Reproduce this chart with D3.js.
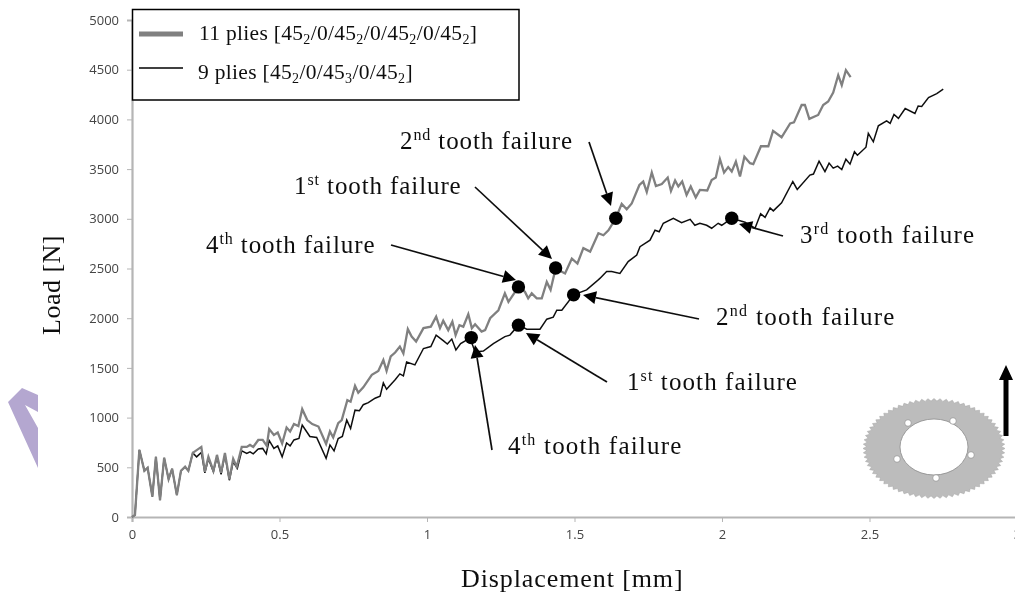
<!DOCTYPE html>
<html>
<head>
<meta charset="utf-8">
<script src="https://cdn.jsdelivr.net/npm/d3@7"></script>
<style>
html, body { margin: 0; padding: 0; background: #fff; overflow: hidden; }
svg { display: block; }
.serif { font-family: "Liberation Serif", serif; fill: #111; }
.tick text { font-family: "Open Sans", sans-serif; font-size: 13px; fill: #444; }
.tick line, .domain { stroke: #b5b5b5; }
</style>
</head>
<body>
<div id="root"></div>
<script>
'use strict';

var width = 1015;
var height = 596;

var xTicks = [0, 0.5, 1, 1.5, 2, 2.5, 3];
var yTicks = [0, 500, 1000, 1500, 2000, 2500, 3000, 3500, 4000, 4500, 5000];

var disp11 = [0, .010, .025, .042, .053, .069, .081, .095, .109, .124, .136, .152, .166, .180, .191, .206, .235, .247, .259, .276, .288, .302, .315, .330, .343, .355, .372, .389, .400, .411, .428, .443, .457, .465, .481, .494, .509, .524, .536, .549, .564, .577, .594, .611, .632, .658, .671, .682, .699, .711, .730, .741, .756, .767, .784, .813, .835, .852, .863, .877, .892, .908, .920, .935, .948, .963, .988, 1.013, 1.031, 1.044, 1.055, 1.072, 1.086, 1.097, 1.110, 1.123, 1.140, 1.152, 1.163, 1.185, 1.197, 1.214, 1.242, 1.264, 1.276, 1.310, 1.332, 1.343, 1.355, 1.372, 1.389, 1.406, 1.419, 1.436, 1.468, 1.491, 1.510, 1.530, 1.553, 1.581, 1.598, 1.615, 1.640, 1.660, 1.677, 1.694, 1.720, 1.733, 1.745, 1.762, 1.776, 1.796, 1.816, 1.827, 1.841, 1.852, 1.865, 1.880, 1.894, 1.911, 1.925, 1.950, 1.965, 1.979, 1.993, 2.007, 2.021, 2.033, 2.047, 2.061, 2.076, 2.095, 2.106, 2.132, 2.157, 2.173, 2.202, 2.231, 2.244, 2.270, 2.281, 2.296, 2.326, 2.343, 2.360, 2.377, 2.394, 2.406, 2.420, 2.436];
var load11 = [0, 20, 675, 465, 495, 205, 605, 170, 595, 380, 485, 220, 465, 505, 465, 645, 705, 455, 605, 465, 625, 445, 645, 380, 585, 505, 705, 705, 725, 705, 775, 775, 715, 885, 825, 850, 740, 900, 860, 935, 915, 1085, 975, 935, 910, 735, 860, 800, 945, 975, 1175, 1160, 1320, 1250, 1305, 1430, 1470, 1580, 1470, 1615, 1655, 1715, 1645, 1890, 1815, 1765, 1900, 1915, 2015, 1900, 1975, 1880, 1965, 1830, 1930, 1915, 2040, 1900, 1940, 1865, 1880, 2000, 2080, 2250, 2165, 2315, 2265, 2200, 2250, 2200, 2200, 2365, 2285, 2500, 2450, 2600, 2550, 2705, 2670, 2855, 2835, 2885, 3005, 3150, 3095, 3155, 3340, 3375, 3270, 3465, 3330, 3350, 3415, 3280, 3385, 3325, 3375, 3240, 3325, 3215, 3290, 3285, 3390, 3415, 3600, 3465, 3520, 3475, 3575, 3425, 3625, 3560, 3550, 3730, 3730, 3885, 3820, 3960, 3970, 4145, 4145, 4005, 4045, 4145, 4180, 4270, 4445, 4345, 4495, 4425];

var disp9 = [0, .010, .025, .042, .053, .069, .081, .095, .109, .124, .136, .152, .166, .180, .191, .206, .219, .235, .247, .259, .276, .288, .302, .315, .330, .343, .357, .372, .389, .400, .411, .428, .443, .455, .465, .481, .494, .509, .524, .536, .549, .566, .577, .603, .626, .658, .671, .685, .699, .713, .728, .741, .756, .771, .784, .801, .824, .841, .852, .863, .892, .908, .920, .931, .959, .988, 1.013, 1.031, 1.055, 1.069, 1.084, 1.098, 1.114, 1.146, 1.163, 1.191, 1.225, 1.264, 1.281, 1.310, 1.338, 1.383, 1.406, 1.428, 1.440, 1.457, 1.497, 1.541, 1.586, 1.609, 1.626, 1.654, 1.682, 1.711, 1.722, 1.756, 1.773, 1.787, 1.801, 1.835, 1.863, 1.892, 1.908, 1.925, 1.948, 1.965, 1.987, 1.999, 2.033, 2.078, 2.112, 2.131, 2.146, 2.163, 2.174, 2.202, 2.240, 2.255, 2.298, 2.310, 2.329, 2.349, 2.363, 2.377, 2.392, 2.406, 2.420, 2.434, 2.449, 2.459, 2.488, 2.496, 2.513, 2.530, 2.558, 2.570, 2.583, 2.598, 2.621, 2.654, 2.665, 2.677, 2.700, 2.728, 2.750];
var load9 = [0, 20, 675, 465, 495, 205, 605, 170, 595, 380, 485, 220, 465, 505, 465, 645, 605, 650, 445, 585, 455, 605, 430, 625, 370, 555, 490, 665, 640, 655, 635, 685, 690, 635, 770, 690, 715, 605, 745, 715, 775, 790, 925, 810, 800, 590, 725, 665, 790, 810, 975, 890, 1075, 1070, 1130, 1150, 1195, 1215, 1350, 1285, 1380, 1440, 1420, 1560, 1530, 1695, 1715, 1830, 1775, 1740, 1790, 1680, 1745, 1800, 1660, 1670, 1745, 1815, 1830, 1930, 1890, 1890, 1990, 2010, 2080, 2080, 2235, 2285, 2400, 2470, 2470, 2450, 2570, 2635, 2720, 2785, 2885, 2870, 2955, 3005, 2960, 2995, 2935, 2955, 2935, 2905, 2955, 2935, 3005, 2965, 2905, 3050, 3015, 3110, 3080, 3160, 3375, 3295, 3440, 3450, 3580, 3475, 3560, 3510, 3530, 3495, 3600, 3550, 3675, 3640, 3720, 3860, 3775, 3935, 3985, 3960, 4050, 4010, 4110, 4060, 4135, 4130, 4220, 4260, 4305];

// failure points, displacement then load
var failDisp = [1.31, 1.436, 1.64, 1.15, 1.31, 1.497, 2.033];
var failLoad = [2315, 2505, 3005, 1805, 1930, 2235, 3005];

var labelNums = ['2', '1', '4', '3', '2', '1', '4'];
var labelSups = ['nd', 'st', 'th', 'rd', 'nd', 'st', 'th'];

var legend11 = [['11 plies [45'], ['2', 1], ['/0/45'], ['2', 1], ['/0/45'], ['2', 1], ['/0/45'], ['2', 1], [']']];
var legend9 = [['9 plies [45'], ['2', 1], ['/0/45'], ['3', 1], ['/0/45'], ['2', 1], [']']];

var svg = d3.select('#root').append('svg')
  .attr('width', width)
  .attr('height', height)
  .attr('viewBox', '0 0 ' + width + ' ' + height);

var defs = svg.append('defs');
defs.append('filter').attr('id', 'soft')
  .attr('x', '-5%').attr('y', '-5%').attr('width', '110%').attr('height', '110%')
  .append('feGaussianBlur').attr('stdDeviation', 0.45);

var root = svg.append('g').attr('filter', 'url(#soft)');

var xScale = d3.scaleLinear().domain([0, 3]).range([132, 1017]);
var yScale = d3.scaleLinear().domain([0, 5000]).range([517, 20]);

// stray purple shape on the left margin
root.append('path')
  .attr('d', 'M8,402 L22,388 L38,395 L38,412 L25,405 L38,428 L38,468 Z')
  .attr('fill', '#b4a7d0');

var xAxis = root.append('g')
  .attr('transform', 'translate(0,' + yScale(0) + ')')
  .call(d3.axisBottom(xScale).tickValues(xTicks).tickFormat(d => d).tickSize(5).tickPadding(8));
var yAxis = root.append('g')
  .attr('transform', 'translate(' + xScale(0) + ',0)')
  .call(d3.axisLeft(yScale).tickValues(yTicks).tickFormat(d => d).tickSize(5).tickPadding(8));
xAxis.select('.domain').attr('stroke-width', 2.2);
yAxis.select('.domain').attr('stroke-width', 2.2);

var line = d3.line()
  .x(d => xScale(d[0]))
  .y(d => yScale(d[1]));

root.append('path')
  .datum(d3.zip(disp9, load9))
  .attr('d', line)
  .attr('fill', 'none')
  .attr('stroke', '#111')
  .attr('stroke-width', 1.5);

root.append('path')
  .datum(d3.zip(disp11, load11))
  .attr('d', line)
  .attr('fill', 'none')
  .attr('stroke', '#808080')
  .attr('stroke-width', 2.3);

root.selectAll('circle.fail')
  .data(d3.zip(failDisp, failLoad))
  .enter().append('circle')
  .attr('class', 'fail')
  .attr('cx', d => xScale(d[0]))
  .attr('cy', d => yScale(d[1]))
  .attr('r', 6.7)
  .attr('fill', '#000');

// label placement: text x, baseline y, letter spacing, arrow tail, arrow tip
var labelPlaces = [
  [400, 149, 0.9, 589, 142, 611, 206],
  [294, 194, 0.9, 475, 187, 552, 259],
  [206, 253, 0.9, 391, 245, 516, 280],
  [800, 243, 1.2, 783, 236, 739, 224],
  [716, 325, 1.3, 699, 319, 583, 295],
  [627, 390, 1.1, 607, 382, 526, 333],
  [508, 454, 1.2, 492, 450, 475, 345]
];

labelPlaces.forEach(function(p, i) {
  var t = root.append('text')
    .attr('class', 'serif')
    .attr('x', p[0])
    .attr('y', p[1])
    .attr('font-size', 25)
    .attr('letter-spacing', p[2]);
  t.append('tspan').text(labelNums[i]);
  t.append('tspan').attr('dy', -9).attr('font-size', 16).text(labelSups[i]);
  t.append('tspan').attr('dy', 9).text(' tooth failure');

  var angle = Math.atan2(p[6] - p[4], p[5] - p[3]);
  var headLen = 13;
  var headW = 6.5;
  var bx = p[5] - headLen * Math.cos(angle);
  var by = p[6] - headLen * Math.sin(angle);
  root.append('line')
    .attr('x1', p[3]).attr('y1', p[4])
    .attr('x2', bx).attr('y2', by)
    .attr('stroke', '#111')
    .attr('stroke-width', 1.7);
  root.append('path')
    .attr('d', d3.line()([
      [p[5], p[6]],
      [bx - headW * Math.sin(angle), by + headW * Math.cos(angle)],
      [bx + headW * Math.sin(angle), by - headW * Math.cos(angle)]
    ]) + 'Z')
    .attr('fill', '#000');
});

// legend
root.append('rect')
  .attr('x', 132.5).attr('y', 9.5)
  .attr('width', 386.5).attr('height', 90.5)
  .attr('fill', '#fff')
  .attr('stroke', '#000')
  .attr('stroke-width', 1.5);
root.append('line')
  .attr('x1', 139).attr('x2', 183).attr('y1', 34).attr('y2', 34)
  .attr('stroke', '#808080').attr('stroke-width', 5);
root.append('line')
  .attr('x1', 139).attr('x2', 183).attr('y1', 68).attr('y2', 68)
  .attr('stroke', '#000').attr('stroke-width', 1.4);

function legendText(parts, x, y) {
  var t = root.append('text')
    .attr('class', 'serif')
    .attr('x', x)
    .attr('y', y)
    .attr('font-size', 21.5)
    .attr('letter-spacing', 0.3);
  var low = false;
  parts.forEach(function(part) {
    var sub = part.length > 1;
    var tspan = t.append('tspan').text(part[0]);
    if (sub) tspan.attr('font-size', 14);
    if (sub !== low) tspan.attr('dy', sub ? 4 : -4);
    low = sub;
  });
}
legendText(legend11, 199, 40);
legendText(legend9, 198, 79);

// axis titles
root.append('text')
  .attr('class', 'serif')
  .attr('x', 461).attr('y', 587)
  .attr('font-size', 26)
  .attr('letter-spacing', 0.9)
  .text('Displacement [mm]');
root.append('text')
  .attr('class', 'serif')
  .attr('transform', 'translate(60,335) rotate(-90)')
  .attr('font-size', 26)
  .attr('letter-spacing', 0.5)
  .text('Load [N]');

// sprocket sketch at the lower right
var gearX = 934;
var gearY = 448.5;
var teeth = 72;
var gearPts = d3.range(teeth * 2).map(function(i) {
  var a = i / (teeth * 2) * 2 * Math.PI;
  var k = i % 2 ? 0.95 : 1;
  return [gearX + 71 * k * Math.cos(a), gearY + 50 * k * Math.sin(a)];
});
root.append('path')
  .attr('d', d3.line()(gearPts) + 'Z')
  .attr('fill', '#bcbcbc')
  .attr('stroke', '#a5a5a5')
  .attr('stroke-width', 0.5);
root.append('ellipse')
  .attr('cx', 934).attr('cy', 447)
  .attr('rx', 34).attr('ry', 28)
  .attr('fill', '#fff')
  .attr('stroke', '#8c8c8c')
  .attr('stroke-width', 0.8);
[[908, 423], [953, 421], [971, 455], [936, 478], [897, 459]].forEach(function(h) {
  root.append('circle')
    .attr('cx', h[0]).attr('cy', h[1]).attr('r', 3.3)
    .attr('fill', '#fff')
    .attr('stroke', '#8c8c8c')
    .attr('stroke-width', 0.7);
});

// load direction arrow
root.append('path')
  .attr('d', 'M1003.5,436 L1003.5,380 L999,380 L1006,365 L1013,380 L1008.5,380 L1008.5,436 Z')
  .attr('fill', '#000');
</script>
</body>
</html>
